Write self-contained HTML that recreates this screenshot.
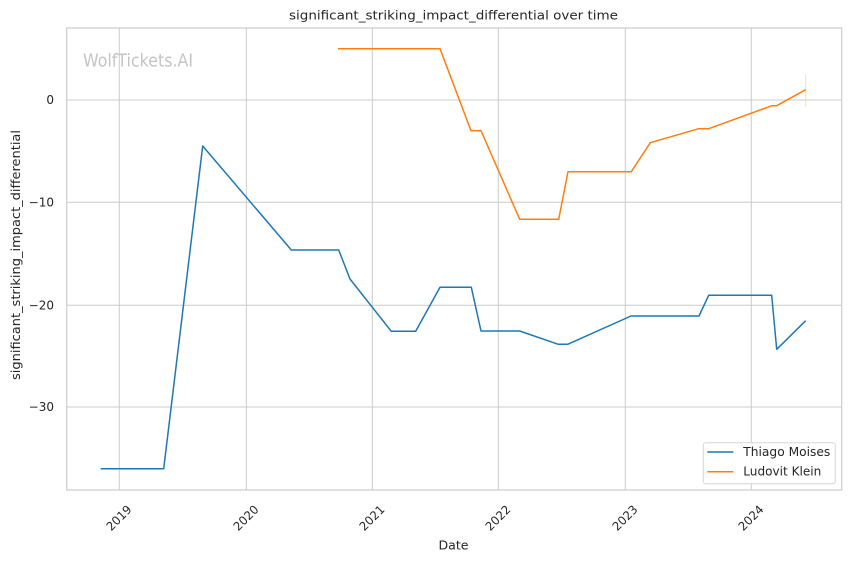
<!DOCTYPE html>
<html><head><meta charset="utf-8"><style>
html,body{margin:0;padding:0;background:#fff;}
svg{display:block;font-family:"DejaVu Sans","Liberation Sans",sans-serif;}
</style></head><body>
<svg width="850" height="561" viewBox="0 0 850 561" xmlns="http://www.w3.org/2000/svg">
<rect width="850" height="561" fill="#fff"/>
<!-- grid -->
<g stroke="#cccccc" stroke-width="1" fill="none">
<line x1="119.3" y1="28" x2="119.3" y2="490"/>
<line x1="246.3" y1="28" x2="246.3" y2="490"/>
<line x1="372.3" y1="28" x2="372.3" y2="490"/>
<line x1="498.3" y1="28" x2="498.3" y2="490"/>
<line x1="625.3" y1="28" x2="625.3" y2="490"/>
<line x1="751.3" y1="28" x2="751.3" y2="490"/>
<line x1="66.7" y1="100" x2="841.7" y2="100"/>
<line x1="66.7" y1="202.3" x2="841.7" y2="202.3"/>
<line x1="66.7" y1="305.3" x2="841.7" y2="305.3"/>
<line x1="66.7" y1="407" x2="841.7" y2="407"/>
</g>
<rect x="66.7" y="28" width="775" height="462" fill="none" stroke="#cccccc" stroke-width="1.2"/>
<!-- watermark -->
<text x="83" y="66.5" font-size="17.5" fill="#c4c4c4" textLength="110" lengthAdjust="spacingAndGlyphs">WolfTickets.AI</text>
<!-- series -->
<polyline fill="none" stroke="#1f77b4" stroke-width="1.5" stroke-linejoin="round" points="100.7,468.7 163.7,468.7 202.7,146 291.3,250 338.7,250 350,279 391.3,331.3 415.7,331.3 440,287.3 471.3,287.3 481,331 519.7,331 558.3,344.3 567.7,344.3 631,316 699,316 708.7,295.3 771.7,295.3 776.7,349.3 805.7,320.7"/>
<line x1="805.7" y1="74.7" x2="805.7" y2="106.7" stroke="#ffd9b8" stroke-width="1"/>
<polyline fill="none" stroke="#ff7f0e" stroke-width="1.5" stroke-linejoin="round" points="338,48.7 440,48.7 471,130.7 481,130.7 519.7,219.3 558.7,219.3 568,171.7 631.3,171.7 650.3,142.7 698.7,128.7 708.7,128.7 772,105.7 776.7,105.7 805.7,89.7"/>
<!-- y ticks -->
<g font-size="12" fill="#262626" text-anchor="end" dominant-baseline="central">
<text x="54" y="100">0</text>
<text x="54" y="202.3">−10</text>
<text x="54" y="305.3">−20</text>
<text x="54" y="407">−30</text>
</g>
<!-- x ticks -->
<g font-size="11.8" fill="#262626" text-anchor="middle" dominant-baseline="central">
<text transform="translate(119,518) rotate(-45)">2019</text>
<text transform="translate(246,518) rotate(-45)">2020</text>
<text transform="translate(372,518) rotate(-45)">2021</text>
<text transform="translate(498,518) rotate(-45)">2022</text>
<text transform="translate(625,518) rotate(-45)">2023</text>
<text transform="translate(751,518) rotate(-45)">2024</text>
</g>
<!-- labels -->
<text x="453.5" y="549.3" font-size="12" fill="#262626" text-anchor="middle" textLength="30" lengthAdjust="spacingAndGlyphs">Date</text>
<text transform="translate(20,255) rotate(-90)" font-size="12" fill="#262626" text-anchor="middle" textLength="250" lengthAdjust="spacingAndGlyphs">significant_striking_impact_differential</text>
<text x="453.5" y="19.5" font-size="12" fill="#262626" text-anchor="middle" textLength="329" lengthAdjust="spacingAndGlyphs">significant_striking_impact_differential over time</text>
<!-- legend -->
<rect x="703.3" y="442.7" width="132" height="41" rx="2.5" fill="#ffffff" fill-opacity="0.85" stroke="#d6d6d6" stroke-width="1"/>
<line x1="707.3" y1="452" x2="733.3" y2="452" stroke="#1f77b4" stroke-width="1.5"/>
<line x1="707.3" y1="471.7" x2="733.3" y2="471.7" stroke="#ff7f0e" stroke-width="1.5"/>
<g font-size="12" fill="#262626" dominant-baseline="central">
<text x="743.3" y="452" textLength="87" lengthAdjust="spacingAndGlyphs">Thiago Moises</text>
<text x="743.3" y="471.7" textLength="78" lengthAdjust="spacingAndGlyphs">Ludovit Klein</text>
</g>
</svg>
</body></html>
